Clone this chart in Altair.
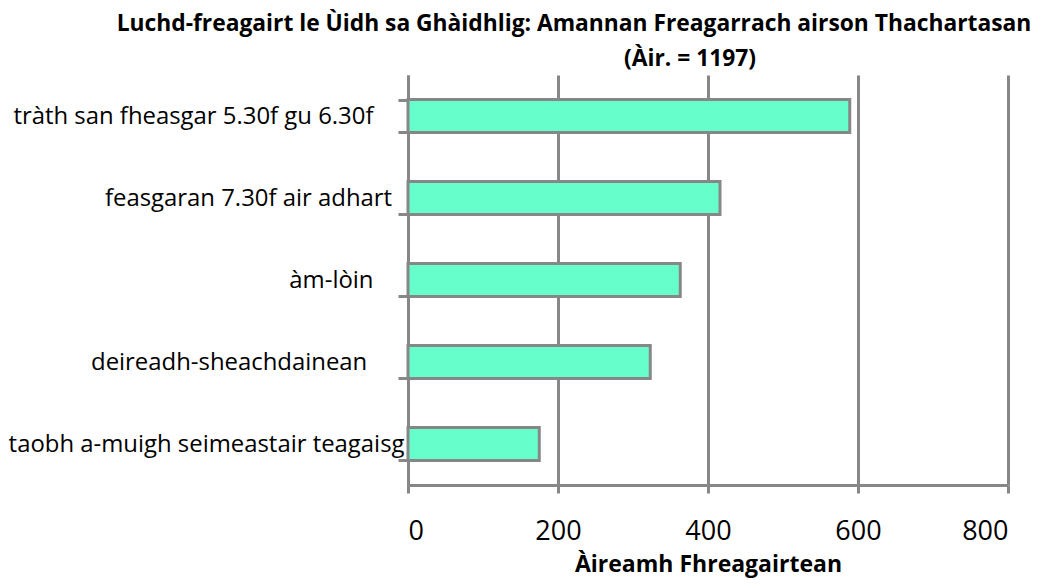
import altair as alt
import pandas as pd

categories = [
    "tràth san fheasgar 5.30f gu 6.30f",
    "feasgaran 7.30f air adhart",
    "àm-lòin",
    "deireadh-sheachdainean",
    "taobh a-muigh seimeastair teagaisg",
]
values = [589, 416, 363, 323, 175]
x_ticks = [0, 200, 400, 600, 800]
title_line1 = "Luchd-freagairt le Ùidh sa Ghàidhlig: Amannan Freagarrach airson Thachartasan"
title_line2 = "(Àir. = 1197)"
x_title = "Àireamh Fhreagairtean"
# trailing spacing after each category label, as in the original
label_pad = [5, 2, 5, 6, 0]

df = pd.DataFrame({"cat": categories, "val": values})

FONT = "Open Sans"
GRAY = "#878787"
SP = "\u00a0"
END = "\u200b"  # zero-width end marker so trailing spaces survive trimming

expr_parts = []
for c, p in zip(categories, label_pad):
    expr_parts.append("datum.label === '" + c + "' ? '" + c + SP * p + END + "' : ")
label_expr = "".join(expr_parts) + "datum.label"

bars = alt.Chart(df).mark_bar(
    fill="#66FFCC", stroke=GRAY, strokeWidth=3
).encode(
    x=alt.X(
        "val:Q",
        scale=alt.Scale(domain=[0, 800], nice=False),
        axis=alt.Axis(
            values=x_ticks,
            title=x_title,
            grid=True,
            gridColor=GRAY,
            gridWidth=3,
            domainColor=GRAY,
            domainWidth=3,
            tickColor=GRAY,
            tickWidth=3,
            tickSize=8,
            labelFont=FONT,
            labelFontSize=27,
            labelColor="#000000",
            labelPadding=25,
            titleFont=FONT,
            titleFontSize=23,
            titleFontWeight="bold",
            titleColor="#000000",
            titlePadding=9,
        ),
    ),
    y=alt.Y(
        "cat:N",
        sort=None,
        scale=alt.Scale(paddingInner=0.6, paddingOuter=0.3),
        axis=alt.Axis(
            title=None,
            tickBand="extent",
            domainColor=GRAY,
            domainWidth=3,
            tickColor=GRAY,
            tickWidth=3,
            tickSize=10,
            labelFont=FONT,
            labelFontSize=23.9,
            labelColor="#000000",
            labelPadding=-6,
            labelLimit=1000,
            labelExpr=label_expr,
        ),
    ),
)

tdf = pd.DataFrame({"t1": [title_line1], "t2": [title_line2]})

t1 = alt.Chart(tdf).mark_text(
    font=FONT, fontSize=22.8, fontWeight="bold", color="#000000",
    align="center", baseline="middle"
).encode(text="t1:N", x=alt.value(166), y=alt.value(-51))

t2 = alt.Chart(tdf).mark_text(
    font=FONT, fontSize=22.8, fontWeight="bold", color="#000000",
    align="center", baseline="middle"
).encode(text="t2:N", x=alt.value(282), y=alt.value(-16))

chart = alt.layer(bars, t1, t2).properties(
    width=600,
    height=410,
    autosize=alt.AutoSizeParams(type="none"),
    padding={"left": 400, "top": 67, "right": 36, "bottom": 94},
    background="#ffffff",
).configure_view(stroke=None)

chart.save("out.html", embed_options={"renderer": "svg", "actions": False})
